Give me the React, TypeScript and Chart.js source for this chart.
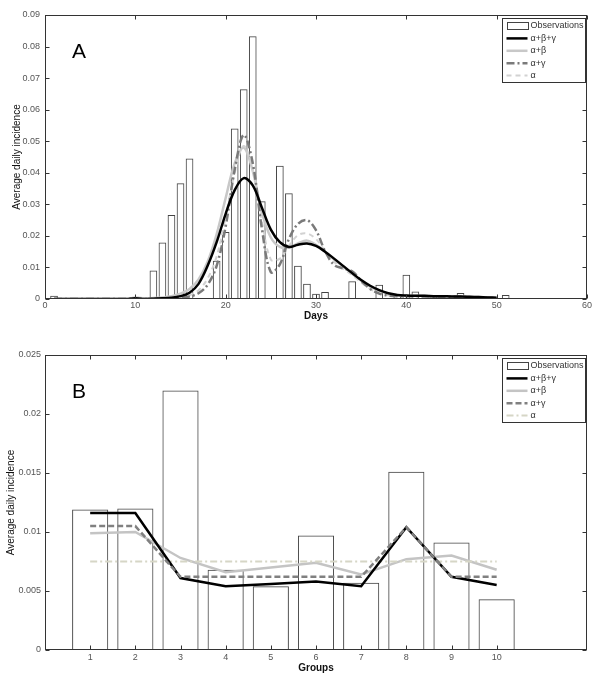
import React, { useEffect, useRef } from "react";
import { Chart, registerables } from "chart.js";
Chart.register(...registerables);

const FONT = '"Liberation Sans", Arial, sans-serif';

// ---------- Panel A data ----------
const obsDays = [1, 10, 12, 13, 14, 15, 16, 19, 20, 21, 22, 23, 24, 26, 27, 28, 29, 30, 31, 34, 37, 39, 40, 41, 43, 46, 47, 51];
const obsValues = [0.001, 0.0007, 0.009, 0.0179, 0.0266, 0.0367, 0.0445, 0.0121, 0.0212, 0.054, 0.0665, 0.0833, 0.031, 0.0422, 0.0335, 0.0105, 0.0048, 0.0017, 0.0022, 0.0056, 0.0045, 0.0012, 0.0077, 0.0024, 0.0008, 0.0019, 0.0009, 0.0013];

const modelDays = [1, 2, 3, 4, 5, 6, 7, 8, 9, 10, 11, 12, 13, 14, 15, 16, 17, 18, 19, 20, 21, 22, 23, 24, 25, 26, 27, 28, 29, 30, 31, 32, 33, 34, 35, 36, 37, 38, 39, 40, 41, 42, 43, 44, 45, 46, 47, 48, 49, 50];
const fitABG = [0, 0, 0, 0, 0, 0, 0, 0, 0, 0.0002, 0, 0.0001, 0.0002, 0.0004, 0.0009, 0.002, 0.0048, 0.0105, 0.018, 0.027, 0.0345, 0.0383, 0.036, 0.029, 0.022, 0.018, 0.0165, 0.0172, 0.0176, 0.0168, 0.015, 0.0128, 0.0105, 0.0082, 0.006, 0.0042, 0.0028, 0.0018, 0.0013, 0.0011, 0.001, 0.001, 0.0009, 0.0009, 0.0008, 0.0008, 0.0007, 0.0006, 0.0005, 0.0004];
const fitAB = [0, 0, 0, 0, 0, 0, 0, 0, 0, 0.0004, 0.0002, 0.0003, 0.0005, 0.0009, 0.0017, 0.0032, 0.0062, 0.0118, 0.0205, 0.032, 0.043, 0.048, 0.0405, 0.0275, 0.0195, 0.0165, 0.0163, 0.0176, 0.0185, 0.0172, 0.015, 0.0126, 0.0103, 0.008, 0.0058, 0.004, 0.0026, 0.0017, 0.0012, 0.001, 0.001, 0.001, 0.0009, 0.0009, 0.0008, 0.0008, 0.0007, 0.0006, 0.0005, 0.0004];
const fitAG = [0, 0, 0, 0, 0, 0, 0, 0, 0, 0.0001, 0, 0, 0.0001, 0.0002, 0.0004, 0.0008, 0.0018, 0.0045, 0.0105, 0.023, 0.041, 0.052, 0.043, 0.0225, 0.0085, 0.011, 0.019, 0.0238, 0.025, 0.0218, 0.0152, 0.0108, 0.0097, 0.0088, 0.0058, 0.0032, 0.0017, 0.0011, 0.0009, 0.0009, 0.0009, 0.0008, 0.0008, 0.0008, 0.0007, 0.0007, 0.0006, 0.0005, 0.0004, 0.0003];
const fitA = [0, 0, 0, 0, 0, 0, 0, 0, 0, 0.0002, 0.0001, 0.0001, 0.0002, 0.0003, 0.0006, 0.0012, 0.0028, 0.0065, 0.0135, 0.026, 0.04, 0.0485, 0.041, 0.025, 0.0125, 0.0128, 0.0168, 0.0202, 0.0208, 0.019, 0.0152, 0.0118, 0.0096, 0.0076, 0.0052, 0.0032, 0.0018, 0.0012, 0.001, 0.0009, 0.0009, 0.0008, 0.0008, 0.0008, 0.0007, 0.0007, 0.0006, 0.0005, 0.0004, 0.0003];

const xTicksA = [0, 10, 20, 30, 40, 50, 60];
const yTicksA = [0, 0.01, 0.02, 0.03, 0.04, 0.05, 0.06, 0.07, 0.08, 0.09];

// ---------- Panel B data ----------
const groups = [1, 2, 3, 4, 5, 6, 7, 8, 9, 10];
const obsGroups = [0.0119, 0.012, 0.022, 0.0068, 0.0054, 0.0097, 0.0057, 0.0151, 0.0091, 0.0043];
const grpABG = [0.0116, 0.0116, 0.0061, 0.0054, 0.0056, 0.0058, 0.0054, 0.0104, 0.0062, 0.0055];
const grpAB = [0.0099, 0.01, 0.0078, 0.0066, 0.007, 0.0074, 0.0064, 0.0077, 0.008, 0.0068];
const grpAG = [0.0105, 0.0105, 0.0062, 0.0062, 0.0062, 0.0062, 0.0062, 0.0104, 0.0062, 0.0062];
const grpA = [0.0075, 0.0075, 0.0075, 0.0075, 0.0075, 0.0075, 0.0075, 0.0075, 0.0075, 0.0075];

const yTicksB = [0, 0.005, 0.01, 0.015, 0.02, 0.025];

const seriesLabels = ["Observations", "\u03b1+\u03b2+\u03b3", "\u03b1+\u03b2", "\u03b1+\u03b3", "\u03b1"];

const fmt = (v: number) => String(parseFloat(Number(v).toFixed(4)));

function framePlugin(letter: string) {
  return {
    id: "matlabFrame",
    afterDatasetsDraw(chart: any) {
      const { ctx, chartArea } = chart;
      const { left, right, top, bottom } = chartArea;
      const xs = chart.scales.x;
      const ys = chart.scales.y;
      ctx.save();
      ctx.strokeStyle = "#333";
      ctx.lineWidth = 1;
      ctx.setLineDash([]);
      const L = Math.round(left) + 0.5, R = Math.round(right) - 0.5, T = Math.round(top) + 0.5, B = Math.round(bottom) - 0.5;
      ctx.strokeRect(L, T, R - L, B - T);
      const tl = 4;
      ctx.beginPath();
      xs.ticks.forEach((t: any) => {
        const px = Math.round(xs.getPixelForValue(t.value)) + 0.5;
        ctx.moveTo(px, B); ctx.lineTo(px, B - tl);
        ctx.moveTo(px, T); ctx.lineTo(px, T + tl);
      });
      ys.ticks.forEach((t: any) => {
        const py = Math.round(ys.getPixelForValue(t.value)) + 0.5;
        ctx.moveTo(L, py); ctx.lineTo(L + tl, py);
        ctx.moveTo(R, py); ctx.lineTo(R - tl, py);
      });
      ctx.stroke();

      // panel letter
      ctx.fillStyle = "#000";
      ctx.font = "21px " + FONT;
      ctx.textAlign = "center";
      ctx.textBaseline = "middle";
      ctx.fillText(letter, left + 34, top + 37.5);

      // legend
      const bw = 83, bh = 64;
      const bx = Math.round(right - 85) + 0.5;
      const by = Math.round(top + 3) + 0.5;
      ctx.fillStyle = "#fff";
      ctx.fillRect(bx, by, bw, bh);
      ctx.strokeStyle = "#333";
      ctx.lineWidth = 1;
      ctx.strokeRect(bx, by, bw, bh);
      const ds = chart.data.datasets;
      ds.forEach((d: any, i: number) => {
        const cy = by + 7.5 + i * 12.4;
        const sx = bx + 4;
        ctx.save();
        if (d.type === "bar") {
          ctx.strokeStyle = "#444";
          ctx.lineWidth = 1;
          ctx.strokeRect(Math.round(sx) + 0.5, Math.round(cy - 4) + 0.5, 21, 7);
        } else {
          ctx.strokeStyle = d.borderColor;
          ctx.lineWidth = d.borderWidth;
          ctx.setLineDash(d.borderDash || []);
          ctx.beginPath();
          ctx.moveTo(sx, cy);
          ctx.lineTo(sx + 21, cy);
          ctx.stroke();
        }
        ctx.restore();
        ctx.fillStyle = "#333";
        ctx.font = "9px " + FONT;
        ctx.textAlign = "left";
        ctx.textBaseline = "middle";
        ctx.fillText(d.label, sx + 24, cy);
      });
      ctx.restore();
    },
  };
}

function buildOptions(o: any) {
  return {
    animation: false,
    responsive: false,
    events: [],
    layout: { padding: { left: 0, right: 13, top: o.padTop, bottom: 0 } },
    plugins: { legend: { display: false }, tooltip: { enabled: false } },
    scales: {
      x: {
        type: "linear",
        offset: false,
        min: o.xMin,
        max: o.xMax,
        afterBuildTicks: (s: any) => { s.ticks = o.xTicks.map((v: number) => ({ value: v })); },
        afterFit: (s: any) => { s.height = o.xAxisH; },
        grid: { display: false, drawTicks: false, offset: false },
        border: { display: false },
        ticks: { color: "#555", font: { family: FONT, size: 9 }, padding: o.xTickPad, maxRotation: 0, autoSkip: false, callback: (v: any) => fmt(v) },
        title: { display: true, text: o.xTitle, color: "#111", font: { family: FONT, size: 10, weight: "bold" }, padding: { top: 0, bottom: o.xTitlePad } },
      },
      y: {
        type: "linear",
        min: 0,
        max: o.yMax,
        afterBuildTicks: (s: any) => { s.ticks = o.yTicks.map((v: number) => ({ value: v })); },
        afterFit: (s: any) => { s.width = 45; },
        grid: { display: false, drawTicks: false },
        border: { display: false },
        ticks: { color: "#555", font: { family: FONT, size: 9 }, padding: o.yTickPad, autoSkip: false, callback: (v: any) => fmt(v) },
        title: { display: true, text: "Average daily incidence", color: "#111", font: { family: FONT, size: 10 }, padding: { top: o.yTitlePad, bottom: 0 } },
      },
    },
  };
}

function lineDs(label: string, xs: number[], ys: number[], color: string, width: number, dash: number[], order: number, tension: number) {
  return {
    type: "line",
    label,
    data: xs.map((x, i) => ({ x, y: ys[i] })),
    borderColor: color,
    borderWidth: width,
    borderDash: dash,
    pointRadius: 0,
    fill: false,
    tension,
    order,
  };
}

export default function App() {
  const refA = useRef<HTMLCanvasElement>(null);
  const refB = useRef<HTMLCanvasElement>(null);

  useEffect(() => {
    const chartA = new Chart(refA.current as HTMLCanvasElement, {
      type: "bar",
      data: {
        datasets: [
          {
            type: "bar",
            label: seriesLabels[0],
            data: obsDays.map((d, i) => ({ x: d, y: obsValues[i] })),
            backgroundColor: "rgba(255,255,255,0)",
            borderColor: "#444",
            borderWidth: 1,
            barPercentage: 0.85,
            categoryPercentage: 1,
            order: 10,
          },
          lineDs(seriesLabels[1], modelDays, fitABG, "#000000", 2.5, [], 1, 0.35),
          lineDs(seriesLabels[2], modelDays, fitAB, "#c8c8c8", 2.5, [], 4, 0.35),
          lineDs(seriesLabels[3], modelDays, fitAG, "#7a7a7a", 2.5, [8, 3, 2, 3], 2, 0.35),
          lineDs(seriesLabels[4], modelDays, fitA, "#d2d2d2", 2, [5, 4], 3, 0.35),
        ],
      } as any,
      options: buildOptions({
        padTop: 15, xMin: 0, xMax: 60, xTicks: xTicksA, yMax: 0.09, yTicks: yTicksA,
        xAxisH: 23, xTickPad: 1, xTitle: "Days", xTitlePad: 0, yTickPad: 5, yTitlePad: 11,
      }) as any,
      plugins: [framePlugin("A")],
    });

    const chartB = new Chart(refB.current as HTMLCanvasElement, {
      type: "bar",
      data: {
        datasets: [
          {
            type: "bar",
            label: seriesLabels[0],
            data: groups.map((g, i) => ({ x: g, y: obsGroups[i] })),
            backgroundColor: "rgba(255,255,255,0)",
            borderColor: "#444",
            borderWidth: 1,
            barPercentage: 0.8,
            categoryPercentage: 1,
            order: 10,
          },
          lineDs(seriesLabels[1], groups, grpABG, "#000000", 2.5, [], 2, 0),
          lineDs(seriesLabels[2], groups, grpAB, "#c4c4c4", 2.5, [], 4, 0),
          lineDs(seriesLabels[3], groups, grpAG, "#808080", 2.5, [6, 3], 1, 0),
          lineDs(seriesLabels[4], groups, grpA, "#d6d6c6", 2, [7, 3, 2, 3], 3, 0),
        ],
      } as any,
      options: buildOptions({
        padTop: 25, xMin: 0, xMax: 12, xTicks: groups, yMax: 0.025, yTicks: yTicksB,
        xAxisH: 34, xTickPad: 2, xTitle: "Groups", xTitlePad: 10, yTickPad: 4, yTitlePad: 5,
      }) as any,
      plugins: [framePlugin("B")],
    });

    return () => {
      chartA.destroy();
      chartB.destroy();
    };
  }, []);

  return (
    <div style={{ position: "fixed", left: 0, top: 0, width: 600, height: 684, background: "#fff" }}>
      <canvas ref={refA} width={600} height={322} style={{ position: "absolute", left: 0, top: 0, width: 600, height: 322 }} />
      <canvas ref={refB} width={600} height={354} style={{ position: "absolute", left: 0, top: 330, width: 600, height: 354 }} />
    </div>
  );
}
